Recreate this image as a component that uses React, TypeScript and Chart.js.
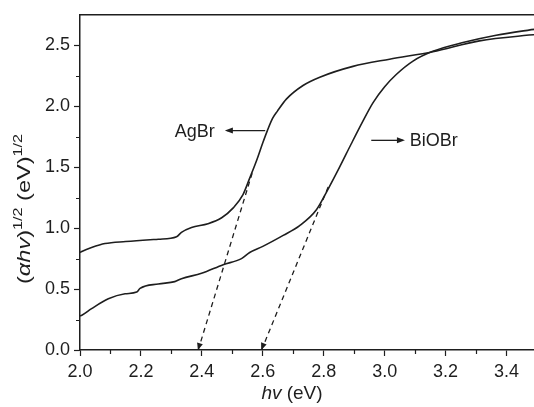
import React, { useEffect, useRef } from "react";
import { Chart, registerables } from "chart.js";

Chart.register(...registerables);

// ---- data ----
const agbrX = [2.0, 2.006, 2.038, 2.082, 2.15, 2.23, 2.257, 2.317, 2.333, 2.366, 2.42, 2.465, 2.503, 2.535, 2.557, 2.579, 2.6, 2.615, 2.632, 2.648, 2.678, 2.732, 2.787, 2.896, 3.016, 3.158, 3.311, 3.5];
const agbrY = [0.8, 0.808, 0.84, 0.873, 0.89, 0.905, 0.909, 0.93, 0.965, 1.005, 1.036, 1.085, 1.166, 1.275, 1.41, 1.55, 1.7, 1.8, 1.9, 1.96, 2.06, 2.17, 2.238, 2.327, 2.386, 2.447, 2.536, 2.59];

const biobrX = [2.0, 2.006, 2.038, 2.093, 2.148, 2.186, 2.197, 2.257, 2.311, 2.333, 2.399, 2.47, 2.53, 2.557, 2.6, 2.667, 2.721, 2.776, 2.81, 2.852, 2.89, 2.929, 2.962, 3.0, 3.038, 3.093, 3.158, 3.257, 3.366, 3.5];
const biobrY = [0.28, 0.285, 0.339, 0.42, 0.461, 0.475, 0.505, 0.542, 0.561, 0.585, 0.629, 0.7, 0.75, 0.8, 0.85, 0.94, 1.02, 1.15, 1.3, 1.5, 1.69, 1.88, 2.03, 2.16, 2.26, 2.37, 2.45, 2.522, 2.582, 2.635];

// tangent (band-gap extrapolation) lines
const agbrTangentX = [2.388, 2.565];
const agbrTangentY = [0, 1.45];
const biobrTangentX = [2.596, 2.815];
const biobrTangentY = [0, 1.34];

// ticks
const xTickValues = [2.0, 2.2, 2.4, 2.6, 2.8, 3.0, 3.2, 3.4];
const xMinorValues = [2.1, 2.3, 2.5, 2.7, 2.9, 3.1, 3.3, 3.5];
const yTickValues = [0, 0.5, 1.0, 1.5, 2.0, 2.5];
const yMinorValues = [0.25, 0.75, 1.25, 1.75, 2.25];

// labels (data coordinates)
const agbrLabel = { text: "AgBr", x: 2.311, y: 1.8, arrowFrom: 2.608, arrowTo: 2.482 };
const biobrLabel = { text: "BiOBr", x: 3.082, y: 1.72, arrowFrom: 2.956, arrowTo: 3.06 };

const INK = "#1e1e1e";
const FONT = "'Liberation Sans', Arial, Helvetica, sans-serif";

const toPts = (xs: number[], ys: number[]) => xs.map((x, i) => ({ x, y: ys[i] }));

function drawArrow(ctx: CanvasRenderingContext2D, x1: number, x2: number, y: number) {
  ctx.beginPath();
  ctx.moveTo(x1, y);
  ctx.lineTo(x2, y);
  ctx.stroke();
  const dir = Math.sign(x2 - x1);
  ctx.beginPath();
  ctx.moveTo(x2 + dir * 2, y);
  ctx.lineTo(x2 - dir * 6, y - 3);
  ctx.lineTo(x2 - dir * 6, y + 3);
  ctx.closePath();
  ctx.fill();
}

function drawRuns(
  ctx: CanvasRenderingContext2D,
  runs: { t: string; font: string; dy: number }[],
  cx: number,
  baseline: number,
  targetWidth?: number
) {
  let total = 0;
  for (const r of runs) {
    ctx.font = r.font;
    total += ctx.measureText(r.t).width;
  }
  const sx = targetWidth ? targetWidth / total : 1;
  ctx.save();
  ctx.translate(cx, baseline);
  ctx.scale(sx, 1);
  let x = -total / 2;
  ctx.textAlign = "left";
  ctx.textBaseline = "alphabetic";
  for (const r of runs) {
    ctx.font = r.font;
    ctx.fillText(r.t, x, r.dy);
    x += ctx.measureText(r.t).width;
  }
  ctx.restore();
}

const decor = {
  id: "decor",
  afterDraw(chart: any) {
    const { ctx, chartArea: a, scales } = chart;
    const xs = scales.x;
    const ys = scales.y;
    ctx.save();
    ctx.strokeStyle = INK;
    ctx.fillStyle = INK;
    // top and right frame
    ctx.lineWidth = 1.5;
    ctx.beginPath();
    ctx.moveTo(a.left, a.top);
    ctx.lineTo(a.right, a.top);
    ctx.lineTo(a.right, a.bottom);
    ctx.stroke();
    // minor ticks
    ctx.lineWidth = 1.2;
    ctx.beginPath();
    for (const v of xMinorValues) {
      const px = Math.round(xs.getPixelForValue(v)) + 0.5;
      ctx.moveTo(px, a.bottom);
      ctx.lineTo(px, a.bottom + 4);
    }
    for (const v of yMinorValues) {
      const py = Math.round(ys.getPixelForValue(v)) + 0.5;
      ctx.moveTo(a.left, py);
      ctx.lineTo(a.left - 4, py);
    }
    ctx.stroke();

    // label arrows & texts
    ctx.lineWidth = 1.3;
    for (const l of [agbrLabel, biobrLabel]) {
      const py = ys.getPixelForValue(l.y);
      drawArrow(ctx, xs.getPixelForValue(l.arrowFrom), xs.getPixelForValue(l.arrowTo), py);
      ctx.font = `18px ${FONT}`;
      ctx.textAlign = "left";
      ctx.textBaseline = "middle";
      ctx.fillText(l.text, xs.getPixelForValue(l.x), py + 1);
    }

    // arrowheads at bottom of tangent lines
    for (const [tx, ty] of [[agbrTangentX, agbrTangentY], [biobrTangentX, biobrTangentY]] as number[][][]) {
      const x0 = xs.getPixelForValue(tx[0]);
      const y0 = ys.getPixelForValue(ty[0]);
      const x1 = xs.getPixelForValue(tx[1]);
      const y1 = ys.getPixelForValue(ty[1]);
      const ang = Math.atan2(y0 - y1, x0 - x1);
      ctx.save();
      ctx.translate(x0, y0 - 1);
      ctx.rotate(ang);
      ctx.beginPath();
      ctx.moveTo(1, 0);
      ctx.lineTo(-6, -3);
      ctx.lineTo(-6, 3);
      ctx.closePath();
      ctx.fill();
      ctx.restore();
    }

    // x title
    drawRuns(
      ctx,
      [
        { t: "hv", font: `italic 19px ${FONT}`, dy: 0 },
        { t: " (eV)", font: `19px ${FONT}`, dy: 0 },
      ],
      292,
      399
    );

    // y title
    ctx.save();
    ctx.translate(30, 209);
    ctx.rotate(-Math.PI / 2);
    drawRuns(
      ctx,
      [
        { t: "(", font: `19px ${FONT}`, dy: 0 },
        { t: "\u03b1hv", font: `italic 19px ${FONT}`, dy: 0 },
        { t: ")", font: `19px ${FONT}`, dy: 0 },
        { t: "1/2", font: `13px ${FONT}`, dy: -8 },
        { t: " (eV)", font: `19px ${FONT}`, dy: 0 },
        { t: "1/2", font: `13px ${FONT}`, dy: -8 },
      ],
      0,
      0,
      150
    );
    ctx.restore();
    ctx.restore();
  },
};

export default function App() {
  const ref = useRef<HTMLCanvasElement | null>(null);
  useEffect(() => {
    document.body.style.margin = "0";
    document.body.style.overflow = "hidden";
    const canvas = ref.current;
    if (!canvas) return;
    const lineDs = (label: string, xs: number[], ys: number[]) => ({
      label,
      data: toPts(xs, ys),
      showLine: true,
      borderColor: INK,
      borderWidth: 1.6,
      pointRadius: 0,
      cubicInterpolationMode: "monotone" as const,
      fill: false,
    });
    const dashDs = (label: string, xs: number[], ys: number[]) => ({
      label,
      data: toPts(xs, ys),
      showLine: true,
      borderColor: INK,
      borderWidth: 1.3,
      borderDash: [5, 4],
      pointRadius: 0,
      tension: 0,
      fill: false,
    });
    const chart = new Chart(canvas, {
      type: "scatter",
      data: {
        datasets: [
          lineDs("AgBr", agbrX, agbrY),
          lineDs("BiOBr", biobrX, biobrY),
          dashDs("AgBr tangent", agbrTangentX, agbrTangentY),
          dashDs("BiOBr tangent", biobrTangentX, biobrTangentY),
        ],
      },
      options: {
        responsive: false,
        animation: false,
        layout: { padding: { left: 0, top: 12, right: 3, bottom: 0 } },
        plugins: { legend: { display: false }, tooltip: { enabled: false } },
        scales: {
          x: {
            type: "linear",
            min: 2.0,
            max: 3.5,
            afterBuildTicks: (s: any) => {
              s.ticks = xTickValues.map((v) => ({ value: v }));
            },
            afterFit: (s: any) => {
              s.height = 57;
            },
            ticks: {
              callback: (v: any) => Number(v).toFixed(1),
              font: { family: FONT, size: 18 },
              color: INK,
              padding: 5,
              maxRotation: 0,
              autoSkip: false,
            },
            grid: { drawOnChartArea: false, drawTicks: true, tickLength: 6, tickColor: INK, tickWidth: 1.2 },
            border: { display: true, color: INK, width: 1.5 },
          },
          y: {
            type: "linear",
            min: 0,
            max: 2.75,
            afterBuildTicks: (s: any) => {
              s.ticks = yTickValues.map((v) => ({ value: v }));
            },
            afterFit: (s: any) => {
              s.width = 80;
            },
            ticks: {
              callback: (v: any) => Number(v).toFixed(1),
              font: { family: FONT, size: 18 },
              color: INK,
              padding: 4,
              autoSkip: false,
            },
            grid: { drawOnChartArea: false, drawTicks: true, tickLength: 6, tickColor: INK, tickWidth: 1.2 },
            border: { display: true, color: INK, width: 1.5 },
          },
        },
      },
      plugins: [decor],
    } as any);
    return () => chart.destroy();
  }, []);
  return (
    <div style={{ position: "fixed", left: 0, top: 0, width: 534, height: 407, overflow: "hidden", background: "#fff" }}>
      <canvas ref={ref} width={540} height={407} style={{ display: "block" }} />
    </div>
  );
}
